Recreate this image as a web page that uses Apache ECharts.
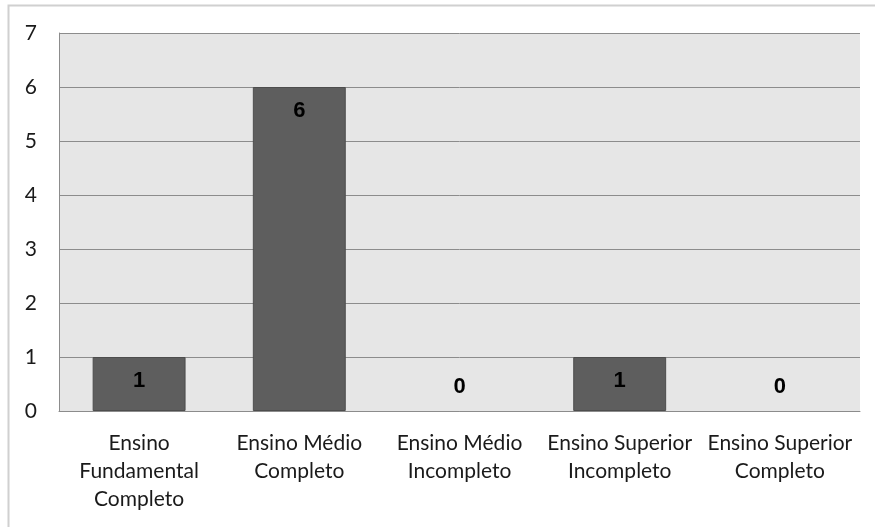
<!DOCTYPE html>
<html>
<head>
<meta charset="utf-8">
<script src="https://cdn.jsdelivr.net/npm/echarts@6/dist/echarts.min.js"></script>
<style>
  html, body { margin: 0; padding: 0; background: #fff; }
  #chart { width: 875px; height: 527px; }
</style>
</head>
<body>
<div id="chart"></div>
<script>
var categories = [
    'Ensino\nFundamental\nCompleto',
    'Ensino Médio\nCompleto',
    'Ensino Médio\nIncompleto',
    'Ensino Superior\nIncompleto',
    'Ensino Superior\nCompleto'
];
var values = [1, 6, 0, 1, 0];
var yTicks = [0, 1, 2, 3, 4, 5, 6, 7];

var seriesData = values.map(function (v) {
    // zero bars have no height, so put their label just above the axis
    if (v === 0) {
        return {value: v, itemStyle: {borderWidth: 0}, label: {position: 'top', distance: 13}};
    }
    return {value: v, label: {position: 'insideTop', distance: 13}};
});

var myChart = echarts.init(document.getElementById('chart'));
myChart.setOption({
    backgroundColor: '#ffffff',
    animation: false,
    textStyle: {fontFamily: 'Lato'},
    graphic: [{
        type: 'rect',
        shape: {x: 8.5, y: 5.5, width: 900, height: 600},
        style: {fill: 'none', stroke: '#d0d0d0', lineWidth: 2}
    }],
    grid: {
        left: 59,
        right: 15,
        top: 33,
        bottom: 116,
        show: true,
        backgroundColor: '#e6e6e6',
        borderWidth: 0
    },
    xAxis: {
        type: 'category',
        data: categories,
        axisLine: {lineStyle: {color: '#8c8c8c', width: 1}},
        axisTick: {show: false},
        axisLabel: {
            color: '#1a1a1a',
            fontSize: 21,
            lineHeight: 28,
            margin: 18,
            interval: 0
        }
    },
    yAxis: {
        type: 'value',
        min: yTicks[0],
        max: yTicks[yTicks.length - 1],
        interval: 1,
        axisLine: {show: true, lineStyle: {color: '#8c8c8c', width: 1}},
        axisTick: {show: false},
        axisLabel: {color: '#1a1a1a', fontSize: 21, margin: 22},
        splitLine: {lineStyle: {color: '#8c8c8c', width: 1}}
    },
    series: [{
        type: 'bar',
        data: seriesData,
        barCategoryGap: '42%',
        itemStyle: {
            color: '#5e5e5e',
            borderColor: '#4d4d4d',
            borderWidth: 1
        },
        label: {
            show: true,
            color: '#000',
            fontSize: 22,
            fontWeight: 'bold',
            fontFamily: 'Liberation Sans'
        }
    }]
});
</script>
</body>
</html>
